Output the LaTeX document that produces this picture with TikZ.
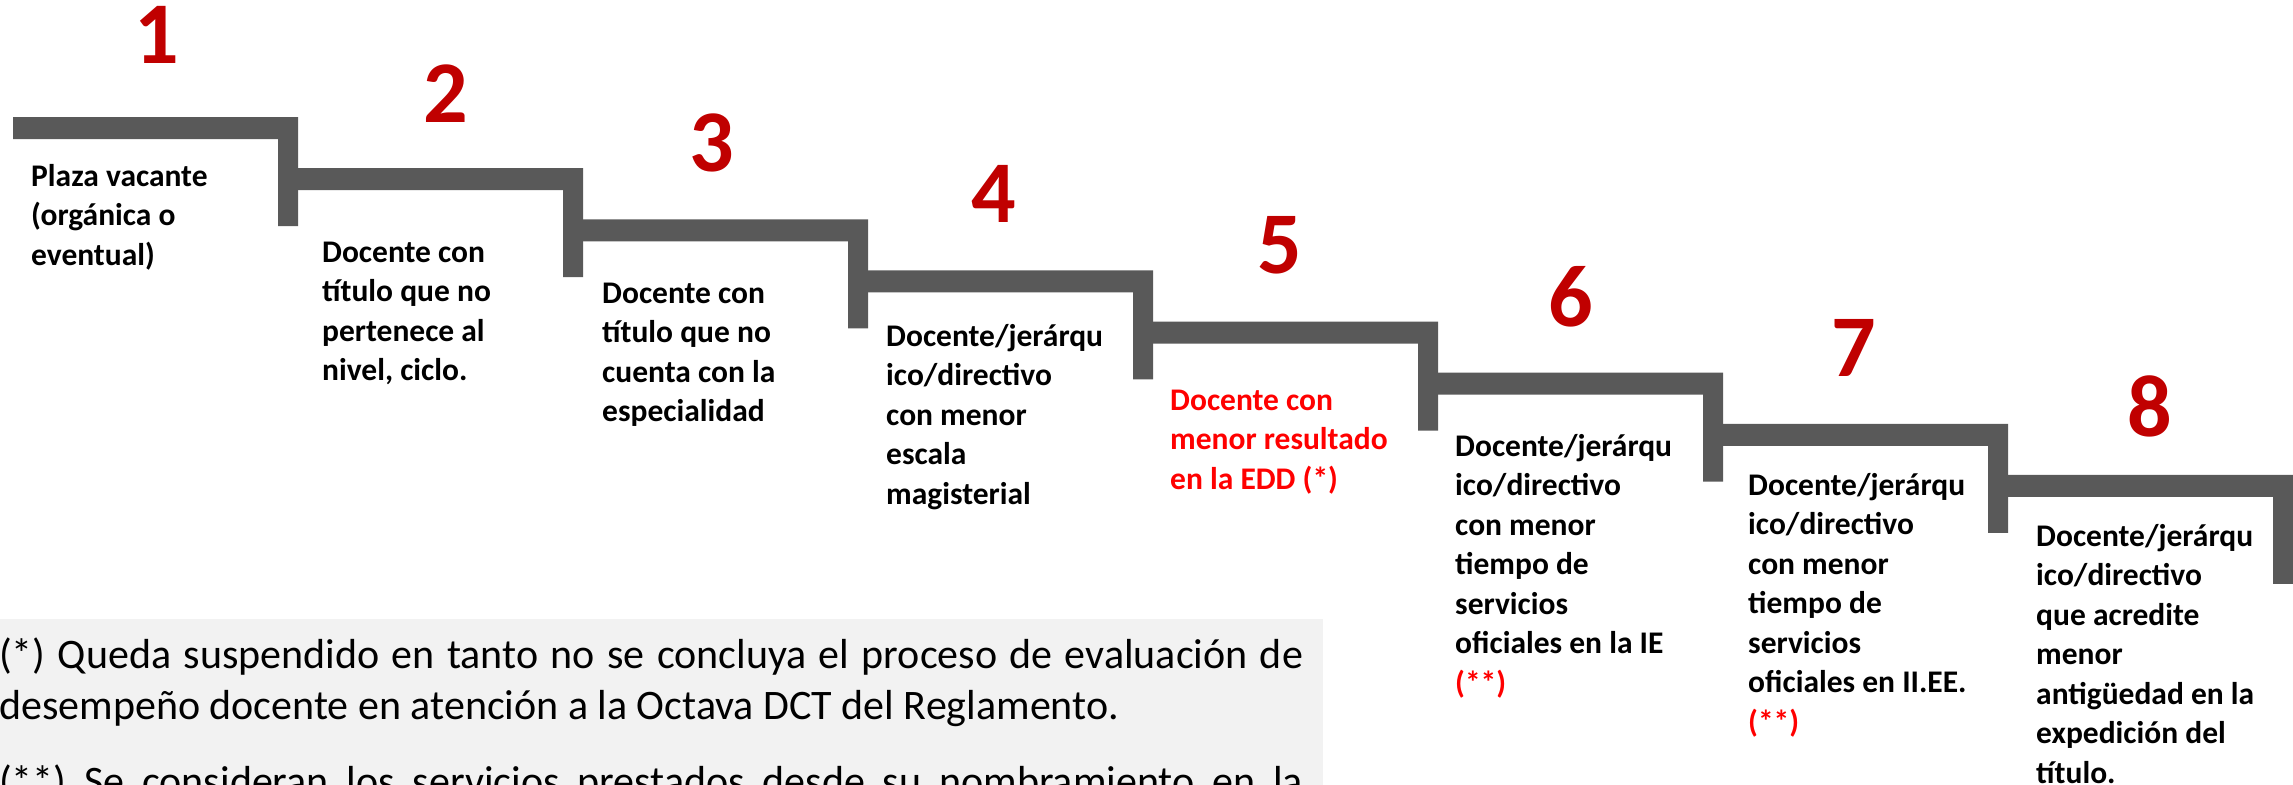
\documentclass[tikz,border=0pt]{standalone}
\usepackage{fontspec}
\setmainfont{Carlito}
\definecolor{bargray}{HTML}{595959}
\definecolor{numred}{HTML}{C00000}
\definecolor{txtred}{HTML}{FF0000}
\definecolor{notebg}{HTML}{F2F2F2}
\tikzset{
  stair/.style={fill=bargray},
  numlabel/.style={text=numred, font=\fontsize{88}{88}\selectfont\bfseries, inner sep=0pt, anchor=center},
  steptext/.style={anchor=north west, inner sep=0pt, align=left, font=\fontsize{31.5}{39.5}\selectfont\bfseries},
  notetext/.style={anchor=base west, inner sep=0pt, font=\fontsize{42}{51}\selectfont}
}
\newcommand{\fs}{\rule{0pt}{24pt}}
\begin{document}
\begin{tikzpicture}[x=1pt,y=-1pt]
\useasboundingbox (0,0) rectangle (2293,784);
\clip (0,0) rectangle (2293,784);
% note box
\fill[notebg] (-5,619) rectangle (1323,790);
\node[notetext] (n1) at (-1,668) {\makebox[1304pt][s]{(*) Queda suspendido en tanto no se concluya el proceso de evaluación de}};
\node[notetext] (n2) at (-1,719) {desempeño docente en atención a la Octava DCT del Reglamento.};
\node[notetext] (n3) at (-1,795) {\makebox[1304pt][s]{(**) Se consideran los servicios prestados desde su nombramiento en la}};
% stairs
\foreach \k in {0,...,7}{
  \pgfmathsetmacro{\L}{13+285*\k}
  \pgfmathsetmacro{\R}{298+285*\k}
  \pgfmathsetmacro{\T}{117+51.14*\k}
  \fill[stair] (\L,\T) -- (\R,\T) -- (\R,\T+109) -- (\R-20,\T+109) -- (\R-20,\T+22) -- (\L,\T+22) -- cycle;
}
% numbers
\node[numlabel] (d1) at (157,35) {1};
\node[numlabel] (d2) at (446,94) {2};
\node[numlabel] (d3) at (712,143) {3};
\node[numlabel] (d4) at (994,194) {4};
\node[numlabel] (d5) at (1280,245) {5};
\node[numlabel] (d6) at (1571,297) {6};
\node[numlabel] (d7) at (1854,348) {7};
\node[numlabel] (d8) at (2150,406) {8};
% texts
\node[steptext] (t1) at (31,186-24) {\fs Plaza vacante\\(orgánica o\\eventual)};
\node[steptext] (t2) at (322,262-24) {\fs Docente con\\título que no\\pertenece al\\nivel, ciclo.};
\node[steptext] (t3) at (602,303-24) {\fs Docente con\\título que no\\cuenta con la\\especialidad};
\node[steptext] (t4) at (886,346-24) {\fs Docente/jerárqu\\ico/directivo\\con menor\\escala\\magisterial};
\node[steptext, text=txtred] (t5) at (1170,410-24) {\fs Docente con\\menor resultado\\en la EDD (*)};
\node[steptext] (t6) at (1455,456-24) {\fs Docente/jerárqu\\ico/directivo\\con menor\\tiempo de\\servicios\\oficiales en la IE\\\textcolor{txtred}{(**)}};
\node[steptext] (t7) at (1748,495-24) {\fs Docente/jerárqu\\ico/directivo\\con menor\\tiempo de\\servicios\\oficiales en II.EE.\\\textcolor{txtred}{(**)}};
\node[steptext] (t8) at (2036,546-24) {\fs Docente/jerárqu\\ico/directivo\\que acredite\\menor\\antigüedad en la\\expedición del\\título.};
\end{tikzpicture}
\end{document}
